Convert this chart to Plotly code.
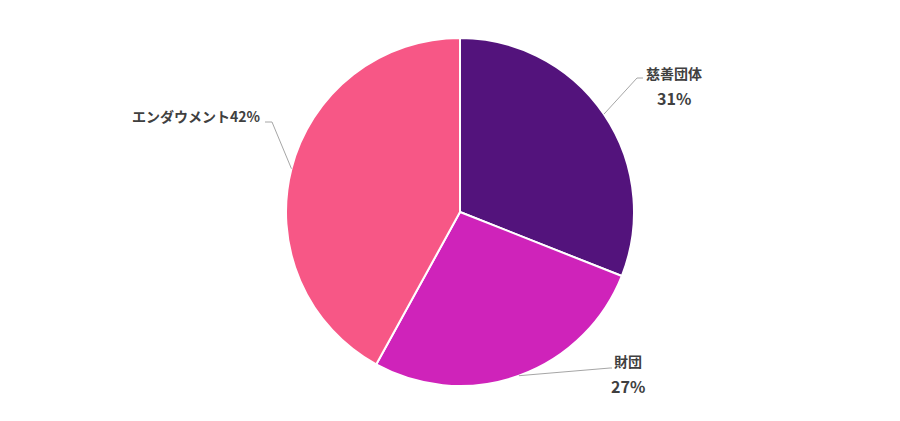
import math
import plotly.graph_objects as go

# ---- data ----
categories = ["慈善団体", "財団", "エンダウメント"]
values = [31, 27, 42]
colors = ["#53137c", "#cf23ba", "#f75786"]

# ---- layout constants (pixels) ----
W, H = 900, 421
cx, cy, R = 460, 212, 174

fig = go.Figure(go.Pie(
    labels=categories,
    values=values,
    sort=False,
    direction="clockwise",
    rotation=0,
    marker=dict(colors=colors, line=dict(color="white", width=2)),
    textinfo="none",
    hoverinfo="label+percent",
    showlegend=False,
    domain=dict(x=[(cx - R) / W, (cx + R) / W], y=[(H - cy - R) / H, (H - cy + R) / H]),
))

def px(x):
    return x / W

def py(y):
    return 1 - y / H

# label elbows / text anchors (layout positions)
elbows = [((637, 78), (643, 78)), ((610, 368), (612, 368)), ((272, 122), (265, 122))]
# (center x of block, name y, pct y) for two-line labels; single-line for last
text_pos = [(674, 73, 98), (628, 361, 386), (263, 116, None)]

FONT = "Noto Sans CJK JP"
COL = "#404040"

total = sum(values)
cum = 0
annotations = []
shapes = []
for i, (cat, v) in enumerate(zip(categories, values)):
    mid = (cum + v / 2) / total * 2 * math.pi
    cum += v
    ex = cx + R * math.sin(mid)
    ey = cy - R * math.cos(mid)
    pct = round(v / total * 100)
    (e1, e2) = elbows[i]
    pts = [(ex, ey), e1, e2]
    path = "M " + " L ".join(f"{px(x)},{py(y)}" for x, y in pts)
    shapes.append(dict(type="path", path=path, xref="paper", yref="paper",
                       line=dict(color="#a6a6a6", width=1)))
    tx, ny, pyy = text_pos[i]
    if pyy is None:
        annotations.append(dict(x=px(tx), y=py(ny), xref="paper", yref="paper",
                                text=f"<b>{cat}{pct}%</b>", showarrow=False,
                                xanchor="right", yanchor="middle",
                                font=dict(family=FONT, size=14, color=COL)))
    else:
        annotations.append(dict(x=px(tx), y=py(ny), xref="paper", yref="paper",
                                text=f"<b>{cat}</b>", showarrow=False,
                                xanchor="center", yanchor="middle",
                                font=dict(family=FONT, size=14, color=COL)))
        annotations.append(dict(x=px(tx), y=py(pyy), xref="paper", yref="paper",
                                text=f"<b>{pct}%</b>", showarrow=False,
                                xanchor="center", yanchor="middle",
                                font=dict(family=FONT, size=16, color=COL)))

fig.update_layout(
    width=W, height=H,
    margin=dict(l=0, r=0, t=0, b=0),
    paper_bgcolor="white",
    plot_bgcolor="white",
    shapes=shapes,
    annotations=annotations,
)

fig.write_html("out.html")
